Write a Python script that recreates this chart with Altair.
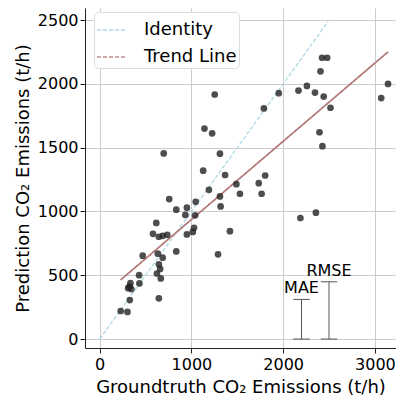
import altair as alt
import pandas as pd

# scatter data (groundtruth vs prediction, t/h)
gt = [229, 303, 328, 310, 324, 335, 345, 430, 433, 469, 581, 617, 624, 634, 645,
      645, 645, 659, 666, 687, 687, 698, 737, 758, 835, 835, 934, 951, 951, 1015,
      1029, 1040, 1047, 1128, 1142, 1191, 1226, 1254, 1290, 1311, 1311, 1318, 1367,
      1420, 1490, 1529, 1734, 1765, 1804, 1790, 1952, 2167, 2188, 2259, 2347, 2357,
      2396, 2407, 2424, 2428, 2442, 2480, 2516, 3069, 3143]
pred = [220, 213, 306, 399, 412, 438, 392, 501, 436, 654, 825, 910, 514, 669, 586,
        802, 319, 550, 475, 638, 809, 1455, 817, 1097, 1014, 687, 973, 1030, 820, 840,
        872, 970, 1076, 1320, 1650, 1170, 1613, 1917, 664, 1453, 1118, 1040, 1286,
        846, 1214, 1139, 1222, 1139, 1282, 1808, 1927, 1948, 949, 1984, 1932, 991,
        1621, 2099, 2205, 1512, 1901, 2205, 1813, 1889, 2000]

series = ["Identity", "Trend Line"]
identity_x = [0, 2490]
identity_y = [0, 2490]
trend_x = [229, 3143]
trend_y = [464, 2251]

err_names = ["MAE", "RMSE"]
err_x = [2200, 2500]
err_val = [311, 449]
cap_half = 90

pts = pd.DataFrame({"gt": gt, "pred": pred})
lines = pd.DataFrame({
    "gt": identity_x + trend_x,
    "pred": identity_y + trend_y,
    "series": [series[0]] * 2 + [series[1]] * 2,
})
trend = pd.DataFrame({"gt": trend_x, "pred": trend_y})
err = pd.DataFrame({
    "name": err_names,
    "x": err_x,
    "xl": [v - cap_half for v in err_x],
    "xr": [v + cap_half for v in err_x],
    "top": err_val,
    "zero": [0, 0],
})

xs = alt.Scale(domain=[-160, 3230], nice=False, zero=False)
ys = alt.Scale(domain=[-70, 2595], nice=False, zero=False)

xax = alt.Axis(values=[0, 1000, 2000, 3000], format="d", title="Groundtruth CO₂ Emissions (t/h)")
yax = alt.Axis(values=[0, 500, 1000, 1500, 2000, 2500], format="d", title="Prediction CO₂ Emissions (t/h)")

base_x = alt.X("gt:Q", scale=xs, axis=xax)
base_y = alt.Y("pred:Q", scale=ys, axis=yax)

line_layer = alt.Chart(lines).mark_line(strokeWidth=1.3).encode(
    x=base_x, y=base_y,
    color=alt.Color("series:N", scale=alt.Scale(domain=series, range=["#add8e6", "#bc8f8f"]),
                    legend=alt.Legend(title=None)),
    strokeDash=alt.StrokeDash("series:N", scale=alt.Scale(domain=series, range=[[4, 2], [4, 2]]),
                              legend=alt.Legend(title=None)),
    detail="series:N",
)

trend_layer = alt.Chart(trend).mark_line(strokeWidth=1.6, color="#b47a7a").encode(
    x=alt.X("gt:Q", scale=xs), y=alt.Y("pred:Q", scale=ys)
)

points = alt.Chart(pts).mark_circle(size=45, color="#222222", opacity=0.8).encode(
    x=alt.X("gt:Q", scale=xs), y=alt.Y("pred:Q", scale=ys)
)

ecolor = "#555555"
vbar = alt.Chart(err).mark_rule(color=ecolor, strokeWidth=1).encode(
    x=alt.X("x:Q", scale=xs), y=alt.Y("zero:Q", scale=ys), y2="top:Q"
)
cap_top = alt.Chart(err).mark_rule(color=ecolor, strokeWidth=1).encode(
    x=alt.X("xl:Q", scale=xs), x2="xr:Q", y=alt.Y("top:Q", scale=ys)
)
cap_bot = alt.Chart(err).mark_rule(color=ecolor, strokeWidth=1).encode(
    x=alt.X("xl:Q", scale=xs), x2="xr:Q", y=alt.Y("zero:Q", scale=ys)
)
labels = alt.Chart(err).mark_text(fontSize=16, font="DejaVu Sans", color="black",
                                  align="center", baseline="bottom", dy=-3).encode(
    x=alt.X("x:Q", scale=xs), y=alt.Y("top:Q", scale=ys), text="name:N"
)

chart = alt.layer(line_layer, trend_layer, points, vbar, cap_top, cap_bot, labels).properties(
    width=388, height=388,
    autosize=alt.AutoSizeParams(type="fit", contains="padding"),
    padding={"left": 6, "top": 0, "right": 0, "bottom": 0},
).configure_view(stroke=None).configure_axis(
    labelFont="DejaVu Sans", titleFont="DejaVu Sans",
    labelFontSize=16, titleFontSize=18, titleFontWeight="normal",
    labelColor="black", titleColor="black",
    domainColor="#222222", tickColor="#222222", tickSize=5,
    gridColor="#cccccc", gridWidth=1, labelPadding=2,
).configure_axisY(titlePadding=5).configure_axisX(titlePadding=6, labelPadding=3).configure_legend(
    orient="none", legendX=9, legendY=4,
    labelFont="DejaVu Sans", labelFontSize=18, labelColor="black",
    symbolType="stroke", symbolSize=900, symbolStrokeWidth=1.5,
    fillColor="white", strokeColor="#dddddd", cornerRadius=4, padding=2,
    labelOffset=16, rowPadding=2,
)

chart.save("out.html", embed_options={"renderer": "svg", "actions": False})
